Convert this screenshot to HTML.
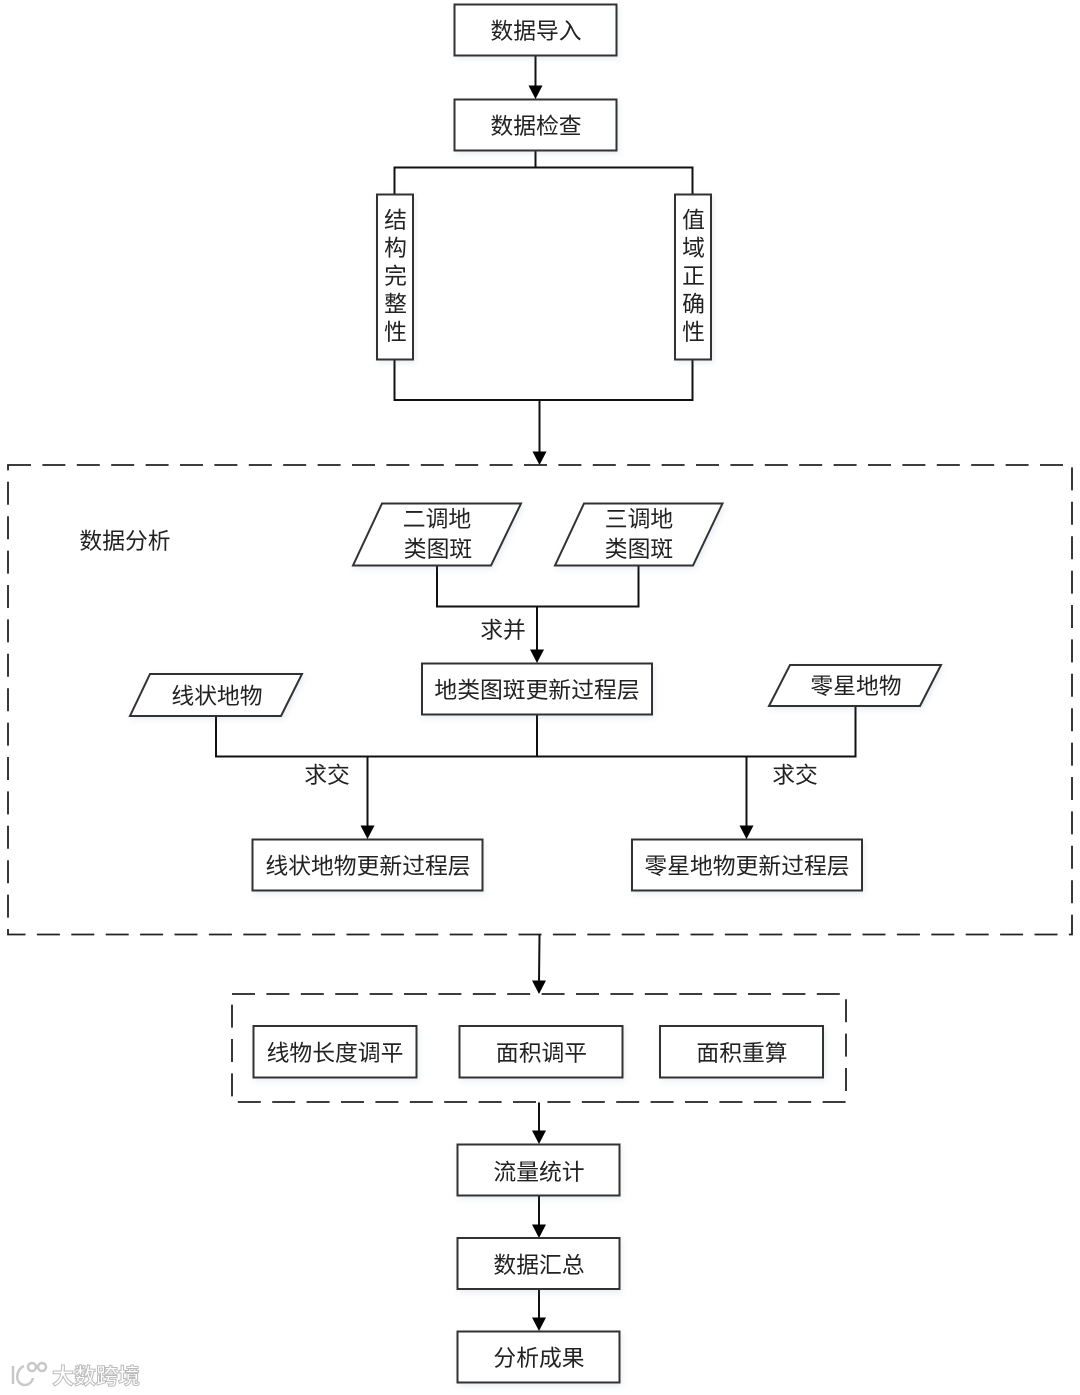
<!DOCTYPE html>
<html><head><meta charset="utf-8"><style>
html,body{margin:0;padding:0;background:#fff}
svg{display:block}
text{font-family:"Liberation Sans","Noto Sans CJK SC",sans-serif;font-size:22.8px;fill:#222;text-anchor:middle;font-weight:400}
.b{fill:#fff;stroke:#333;stroke-width:2}
.l{fill:none;stroke:#111;stroke-width:2}
.d{fill:none;stroke:#222;stroke-width:1.8;stroke-dasharray:23 11.4}
.a{fill:#000}
.wm{font-size:22px;fill:#fff;stroke:#bbb;stroke-width:1;font-weight:700}
</style></head><body>
<svg width="1080" height="1395" viewBox="0 0 1080 1395" xmlns="http://www.w3.org/2000/svg">
<defs><filter id="s" x="-10%" y="-10%" width="125%" height="130%"><feDropShadow dx="1.500" dy="2.500" stdDeviation="3" flood-color="#5a7fa8" flood-opacity=".14"/></filter></defs>

<!-- top connectors -->
<path class="l" d="M535.500 55V90M535.500 150V167.500M394.500 194V167.500H692.500V194M394.500 359V400H692.500V359M539.500 400V453"/>
<polygon class="a" points="528.500,85.500 542.500,85.500 535.500,99"/>
<polygon class="a" points="532.500,451.500 546.500,451.500 539.500,465"/>

<!-- top boxes -->
<rect class="b" filter="url(#s)" x="454.500" y="4.500" width="162" height="51"/>
<text x="536" y="39">数据导入</text>
<rect class="b" filter="url(#s)" x="454.500" y="99.500" width="162" height="51"/>
<text x="536" y="134">数据检查</text>

<rect class="b" filter="url(#s)" x="377" y="194.500" width="36" height="165"/>
<g><text x="395.500" y="228">结</text><text x="395.500" y="256">构</text><text x="395.500" y="284">完</text><text x="395.500" y="312">整</text><text x="395.500" y="340">性</text></g>
<rect class="b" filter="url(#s)" x="675" y="194.500" width="36" height="165"/>
<g><text x="693.500" y="228">值</text><text x="693.500" y="256">域</text><text x="693.500" y="284">正</text><text x="693.500" y="312">确</text><text x="693.500" y="340">性</text></g>

<!-- analysis frame -->
<rect class="d" x="8" y="465" width="1064" height="469.500"/>
<text x="125" y="549">数据分析</text>

<!-- analysis connectors -->
<path class="l" d="M437 565V606.500H638.500V565M537 606.500V652M216 715V756.500H855.500V706M537 714V756.500M367.500 756.500V828M746.500 756.500V828"/>
<polygon class="a" points="530,649.500 544,649.500 537,663"/>
<polygon class="a" points="360.500,825.500 374.500,825.500 367.500,839"/>
<polygon class="a" points="739.500,825.500 753.500,825.500 746.500,839"/>

<polygon class="b" filter="url(#s)" points="382,503.500 521,503.500 491,565.500 353,565.500"/>
<text x="437" y="527">二调地</text><text x="438" y="557">类图斑</text>
<polygon class="b" filter="url(#s)" points="584,503.500 722.500,503.500 693,565.500 555,565.500"/>
<text x="639" y="527">三调地</text><text x="639" y="557">类图斑</text>
<text x="503" y="638">求并</text>

<rect class="b" filter="url(#s)" x="422" y="663.500" width="230" height="51"/>
<text x="537" y="698">地类图斑更新过程层</text>
<polygon class="b" filter="url(#s)" points="150,674 302,674 281,716 130,716"/>
<text x="217" y="704">线状地物</text>
<polygon class="b" filter="url(#s)" points="790,665 941,665 920,706 769,706"/>
<text x="856" y="694">零星地物</text>
<text x="327" y="783">求交</text>
<text x="795" y="783">求交</text>
<rect class="b" filter="url(#s)" x="252.500" y="839.500" width="230" height="51"/>
<text x="368" y="874">线状地物更新过程层</text>
<rect class="b" filter="url(#s)" x="632" y="839.500" width="230" height="51"/>
<text x="747" y="874">零星地物更新过程层</text>

<!-- adjust frame -->
<path class="l" d="M539.500 934.500L539 983M539 1102.500V1133M539 1196V1227M539 1289V1320"/>
<polygon class="a" points="532,980.500 546,980.500 539,994"/>
<polygon class="a" points="532,1130.500 546,1130.500 539,1144"/>
<polygon class="a" points="532,1224.500 546,1224.500 539,1238"/>
<polygon class="a" points="532,1317.500 546,1317.500 539,1331"/>
<rect class="d" x="232" y="994" width="614" height="108"/>
<rect class="b" filter="url(#s)" x="253.500" y="1026" width="163" height="51.500"/>
<text x="335" y="1061">线物长度调平</text>
<rect class="b" filter="url(#s)" x="459.500" y="1026" width="163" height="51.500"/>
<text x="541.500" y="1061">面积调平</text>
<rect class="b" filter="url(#s)" x="660" y="1026" width="163" height="51.500"/>
<text x="742" y="1061">面积重算</text>

<!-- bottom boxes -->
<rect class="b" filter="url(#s)" x="457.500" y="1144.500" width="162" height="51"/>
<text x="539" y="1180">流量统计</text>
<rect class="b" filter="url(#s)" x="457.500" y="1238" width="162" height="51"/>
<text x="539" y="1273">数据汇总</text>
<rect class="b" filter="url(#s)" x="457.500" y="1331.500" width="162" height="51"/>
<text x="539" y="1366">分析成果</text>

<!-- watermark -->
<g fill="none" stroke="#c8c8c8" stroke-width="2.500">
<path d="M13 1366V1384M24 1366C15 1370 15 1384 24 1385C29 1385 32 1382 33 1378"/>
<circle cx="32" cy="1367" r="4"/><circle cx="42" cy="1367" r="4"/>
</g>
<text class="wm" x="96" y="1384">大数跨境</text>
</svg>
</body></html>
